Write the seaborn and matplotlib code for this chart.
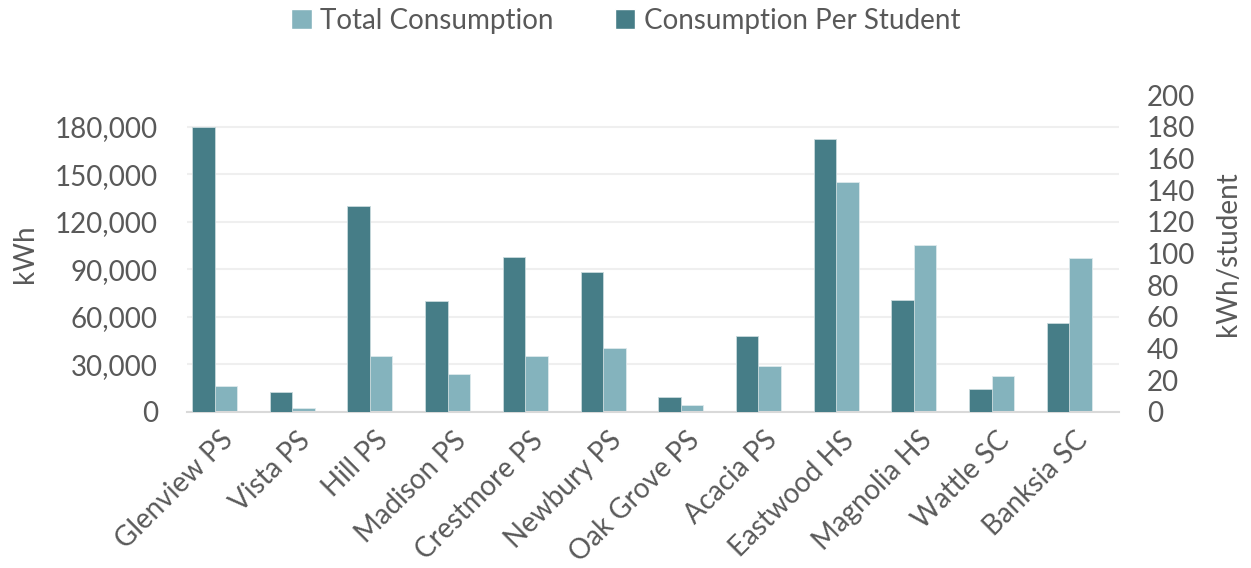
import matplotlib
matplotlib.use("Agg")
import matplotlib.pyplot as plt
import matplotlib.ticker as mticker
from matplotlib.patches import Patch
from matplotlib.transforms import ScaledTranslation
import pandas as pd
import seaborn as sns

schools = ["Glenview PS", "Vista PS", "Hill PS", "Madison PS", "Crestmore PS",
           "Newbury PS", "Oak Grove PS", "Acacia PS", "Eastwood HS",
           "Magnolia HS", "Wattle SC", "Banksia SC"]
total_kwh = [16500, 2200, 35400, 23900, 35100, 40300, 4200, 28900,
             145200, 105100, 22800, 97100]
per_student = [180.0, 12.3, 129.6, 69.6, 97.9, 88.2, 9.3, 48.1,
               172.0, 70.7, 14.2, 55.7]

TOTAL = "Total Consumption"
PER = "Consumption Per Student"
LIGHT = "#84B3BD"
DARK = "#467D87"
TEXT = "#595959"
FS = 20

df_total = pd.DataFrame({"school": schools, "value": total_kwh, "series": TOTAL})
df_per = pd.DataFrame({"school": schools, "value": per_student, "series": PER})

sns.set_theme(style="white")
plt.rcParams["font.family"] = ["Lato", "DejaVu Sans"]

fig = plt.figure(figsize=(12.51, 5.68), dpi=100)
ax = fig.add_axes([0.1495, 0.2752, 0.745, 0.5575])
ax2 = ax.twinx()

hue_order = [PER, TOTAL]
palette = {TOTAL: LIGHT, PER: DARK}

sns.barplot(data=df_total, x="school", y="value", hue="series", order=schools,
            hue_order=hue_order, palette=palette, dodge=True, width=0.58,
            saturation=1, legend=False, ax=ax, edgecolor="#DDE9EC", linewidth=0.6)
sns.barplot(data=df_per, x="school", y="value", hue="series", order=schools,
            hue_order=hue_order, palette=palette, dodge=True, width=0.58,
            saturation=1, legend=False, ax=ax2, edgecolor="#C9DADD", linewidth=0.6)

ax.set_xlim(-0.354, 11.64)
ax.set_ylim(0, 200000)
ax.set_yticks(range(0, 180001, 30000))
ax.yaxis.set_major_formatter(mticker.StrMethodFormatter("{x:,.0f}"))
ax2.set_ylim(0, 200)
ax2.set_yticks(range(0, 201, 20))

ax.set_axisbelow(True)
ax.yaxis.grid(True, color="#EFEFEF", linewidth=1.5)
ax.xaxis.grid(False)

for s in ["top", "left", "right"]:
    ax.spines[s].set_visible(False)
    ax2.spines[s].set_visible(False)
ax2.spines["bottom"].set_visible(False)
ax.spines["bottom"].set_color("#D9D9D9")
ax.spines["bottom"].set_linewidth(1.5)

ax.tick_params(axis="y", length=0, pad=21, labelsize=FS, labelcolor=TEXT)
ax2.tick_params(axis="y", length=0, pad=20, labelsize=FS, labelcolor=TEXT)
ax.tick_params(axis="x", length=0, pad=11, labelsize=FS, labelcolor=TEXT)

ax.set_xlabel("")
ax.set_ylabel("kWh", fontsize=FS, color=TEXT, labelpad=12)
ax2.set_ylabel("kWh/student", fontsize=FS, color=TEXT, labelpad=14)

shift = ScaledTranslation(5 / 100, 0, fig.dpi_scale_trans)
for lbl in ax.get_xticklabels():
    lbl.set_rotation(45)
    lbl.set_ha("right")
    lbl.set_rotation_mode("anchor")
    lbl.set_transform(lbl.get_transform() + shift)

handles = [Patch(facecolor=LIGHT, label=TOTAL), Patch(facecolor=DARK, label=PER)]
fig.legend(handles=handles, loc="upper center", bbox_to_anchor=(0.5, 1.03),
           ncol=2, frameon=False, fontsize=FS, labelcolor=TEXT,
           handlelength=0.75, handleheight=0.75, handletextpad=0.3,
           columnspacing=2.2)

fig.savefig("out.png", dpi=100)
